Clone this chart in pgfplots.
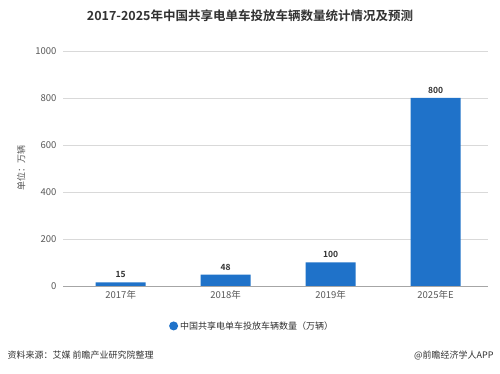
\documentclass[border=0pt]{standalone}
\usepackage{fontspec}
\setmainfont{Noto Sans CJK SC}[BoldFont={Noto Sans CJK SC Bold}]
\usepackage{pgfplots}
\pgfplotsset{compat=1.18}
\definecolor{barblue}{RGB}{31,114,201}
\definecolor{txtgray}{RGB}{89,89,89}
\definecolor{darktxt}{RGB}{50,50,50}
\begin{document}
\begin{tikzpicture}[x=1pt,y=1pt]
\path[use as bounding box, fill=white] (0,0) rectangle (500,374);
\begin{axis}[
  at={(63pt,88pt)}, anchor=south west, scale only axis,
  width=425pt, height=235pt,
  xmin=-0.55, xmax=3.5, ymin=0, ymax=1000,
  ytick={0,200,...,1000}, xtick={0,1,2,3},
  xticklabels={2017年,2018年,2019年,2025年E},
  ymajorgrids, grid style={black!15, line width=0.6pt},
  axis x line*=bottom, axis y line*=left,
  x axis line style={black!35, line width=0.6pt, -},
  y axis line style={draw=none},
  major tick length=0pt,
  tick label style={font=\fontsize{9.5}{11}\selectfont, text=txtgray},
  /pgf/number format/assume math mode=true,
  /pgf/number format/1000 sep={},
  yticklabel style={xshift=-3pt},
  xticklabel style={yshift=-1pt},
  ylabel={单位：万辆}, ylabel style={font=\fontsize{9}{10}\selectfont, text=txtgray, at={(-0.08,0.5)}, anchor=south},
  legend style={at={(0.445,-0.17)}, anchor=center, draw=none, font=\fontsize{9}{11}\selectfont, text=darktxt},
  legend image code/.code={\fill[barblue] (0.2em,0) circle (4.5pt);},
]
\addplot[ybar, bar width=50pt, fill=barblue, draw=none,
  nodes near coords, every node near coord/.append style={font=\bfseries\fontsize{8.5}{10}\selectfont, text=darktxt, yshift=1pt},
  point meta=y] coordinates {(0,15) (1,48) (2,100) (3,800)};
\addlegendentry{中国共享电单车投放车辆数量（万辆）}
\end{axis}
\node[font=\bfseries\fontsize{12.5}{14}\selectfont, text=darktxt] at (250,358) {2017-2025年中国共享电单车投放车辆数量统计情况及预测};
\node[anchor=west, font=\fontsize{9}{11}\selectfont, text=darktxt] at (4,19) {资料来源：艾媒 前瞻产业研究院整理};
\node[anchor=east, font=\fontsize{9}{11}\selectfont, text=darktxt] at (497,19) {@前瞻经济学人APP};
\end{tikzpicture}
\end{document}
